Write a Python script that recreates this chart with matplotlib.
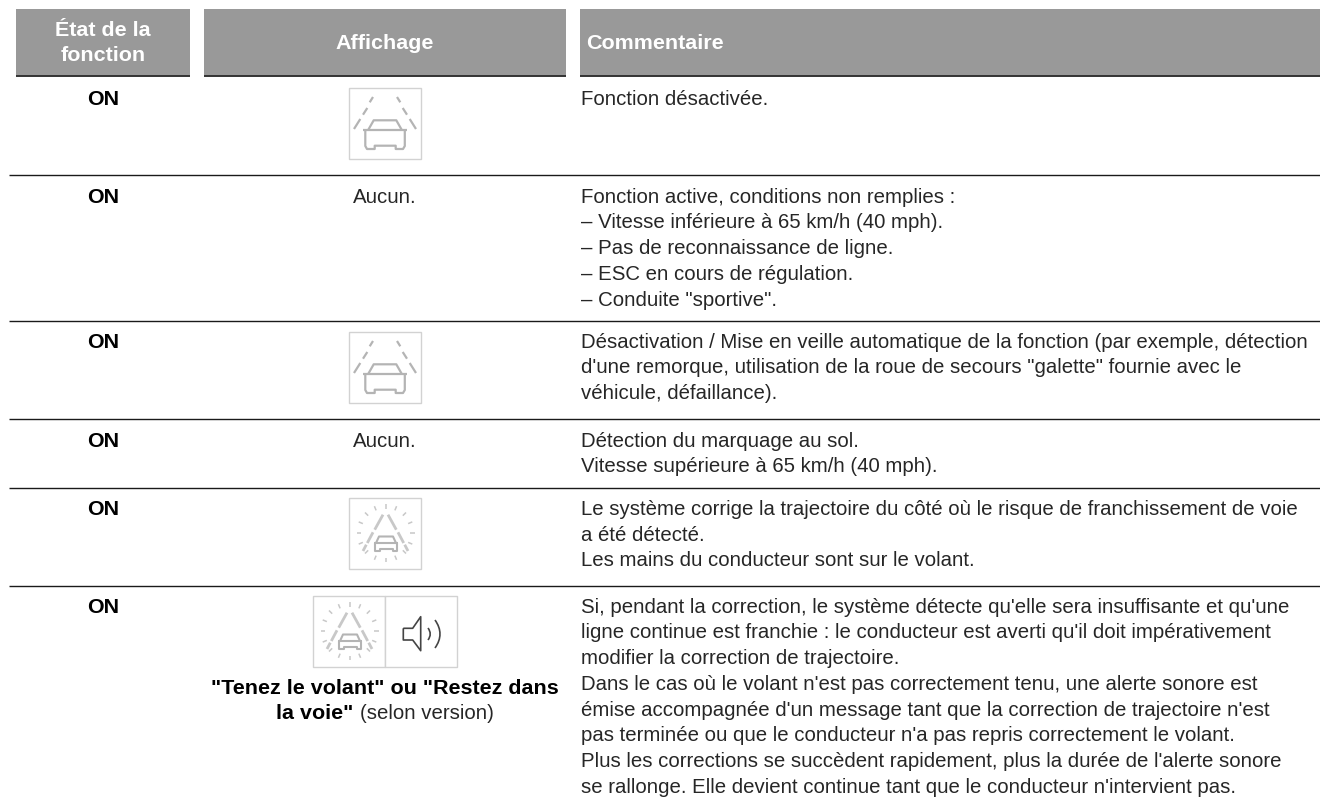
import numpy as np
import matplotlib.pyplot as plt
from matplotlib.patches import Rectangle, PathPatch
from matplotlib.path import Path

plt.rcParams["font.family"] = ["Liberation Sans", "DejaVu Sans"]

# contenu du tableau
headers = ["État de la\nfonction", "Affichage", "Commentaire"]
etat = ["ON", "ON", "ON", "ON", "ON", "ON"]
affichage = ["icon", "Aucun.", "icon", "Aucun.", "alert", "alert+son"]
commentaires = [
    ["Fonction désactivée."],
    ["Fonction active, conditions non remplies :",
     "– Vitesse inférieure à 65 km/h (40 mph).",
     "– Pas de reconnaissance de ligne.",
     "– ESC en cours de régulation.",
     "– Conduite \"sportive\"."],
    ["Désactivation / Mise en veille automatique de la fonction (par exemple, détection",
     "d'une remorque, utilisation de la roue de secours \"galette\" fournie avec le",
     "véhicule, défaillance)."],
    ["Détection du marquage au sol.",
     "Vitesse supérieure à 65 km/h (40 mph)."],
    ["Le système corrige la trajectoire du côté où le risque de franchissement de voie",
     "a été détecté.",
     "Les mains du conducteur sont sur le volant."],
    ["Si, pendant la correction, le système détecte qu'elle sera insuffisante et qu'une",
     "ligne continue est franchie : le conducteur est averti qu'il doit impérativement",
     "modifier la correction de trajectoire.",
     "Dans le cas où le volant n'est pas correctement tenu, une alerte sonore est",
     "émise accompagnée d'un message tant que la correction de trajectoire n'est",
     "pas terminée ou que le conducteur n'a pas repris correctement le volant.",
     "Plus les corrections se succèdent rapidement, plus la durée de l'alerte sonore",
     "se rallonge. Elle devient continue tant que le conducteur n'intervient pas."],
]
message = ["\"Tenez le volant\" ou \"Restez dans", "la voie\"", "(selon version)"]

# mise en page, en pixels
col_x = [(16, 190), (204, 566), (580, 1320)]
row_base = [105, 202.7, 347.7, 446.7, 515, 612.7]
row_lines = [175, 320.7, 419, 487.5, 585.7]
line_h = 25.7
fs = 14.7
fs_bold = 15.45
txt_col = "#262626"
grey = "#b4b4b4"
box_col = "#d2d2d2"

fig = plt.figure(figsize=(13.2, 8.05), dpi=100)
ax = fig.add_axes([0, 0, 1, 1])
ax.set_xlim(0, 1320)
ax.set_ylim(805, 0)
ax.axis("off")


def draw_box(x, y):
    ax.add_patch(Rectangle((x, y), 72, 71, fc="white", ec=box_col, lw=1))


def seg(x, y, pts, lw=1.6, col=grey, closed=False):
    p = np.array(pts, dtype=float)
    if closed:
        p = np.vstack([p, p[:1]])
    ax.plot(x + p[:, 0], y + p[:, 1], color=col, lw=lw, solid_capstyle="butt", solid_joinstyle="round")


def draw_car_icon(x, y):
    draw_box(x, y)
    for a, b in [((24, 9), (20.7, 14.3)), ((18.3, 20), (14, 26.7)), ((11.3, 31), (5, 41))]:
        seg(x, y, [a, b])
        seg(x, y, [(72 - a[0], a[1]), (72 - b[0], b[1])])
    seg(x, y, [(14, 42.3), (58, 42.3)])
    seg(x, y, [(19, 42.3), (24.7, 32.3), (47.3, 32.3), (53, 42.3)])
    seg(x, y, [(16.3, 42.3), (16.3, 58), (18, 61), (25.7, 61), (25.7, 57.7), (46.7, 57.7),
               (46.7, 61), (54, 61), (55.8, 58), (55.8, 42.3)])


def draw_alert_icon(x, y):
    draw_box(x, y)
    col = "#c8c8c8"
    # rayons
    for ang in np.arange(0, 360, 22.5):
        c, s = np.cos(np.radians(ang)), np.sin(np.radians(ang))
        seg(x, y, [(36.5 + 24.5 * c, 35 + 24.5 * s), (36.5 + 29 * c, 35 + 29 * s)], lw=1.1, col=col)
    # voies
    for a, b in [((34, 16.7), (25.7, 31.7)), ((24, 34.3), (18.3, 45)), ((17.3, 46.7), (14, 53))]:
        seg(x, y, [a, b], lw=2, col=col)
        seg(x, y, [(73 - a[0], a[1]), (73 - b[0], b[1])], lw=2, col=col)
    # voiture
    seg(x, y, [(27, 45), (30, 38.5), (44, 38.5), (47, 45)], lw=1.5)
    seg(x, y, [(25, 45), (49, 45)], lw=1.5)
    seg(x, y, [(26, 45), (26, 53), (30.5, 53), (30.5, 51), (43.5, 51), (43.5, 53), (48, 53), (48, 45)], lw=1.5)


def draw_speaker_icon(x, y):
    draw_box(x, y)
    seg(x, y, [(18.3, 32.3), (27.7, 32.3), (35.7, 20.7), (35.7, 54.7), (27.7, 44), (18.3, 44)],
        lw=1.2, col="#444444", closed=True)
    for p0, p1, p2 in [((43, 32), (47.5, 38), (43, 44)), ((50, 24), (60, 38), (50, 52))]:
        verts = [(x + p0[0], y + p0[1]), (x + p1[0], y + p1[1]), (x + p2[0], y + p2[1])]
        ax.add_patch(PathPatch(Path(verts, [Path.MOVETO, Path.CURVE3, Path.CURVE3]),
                               fc="none", ec="#444444", lw=1.2))


# en-tête
for (x0, x1) in col_x:
    ax.add_patch(Rectangle((x0, 9), x1 - x0, 67, fc="#999999", ec="none"))
    ax.plot([x0, x1], [76.5, 76.5], color="#333333", lw=1.4, solid_capstyle="butt")
for k, t in enumerate(headers[0].split("\n")):
    ax.text(sum(col_x[0]) / 2, 35.5 + k * 25.7, t, ha="center", va="baseline", color="white",
            fontsize=fs_bold, fontweight="bold")
ax.text(sum(col_x[1]) / 2, 49, headers[1], ha="center", va="baseline", color="white",
        fontsize=fs_bold, fontweight="bold")
ax.text(586, 49, headers[2], ha="left", va="baseline", color="white", fontsize=fs_bold, fontweight="bold")

# séparateurs
for y in row_lines:
    ax.plot([9, 1320], [y, y], color="#1a1a1a", lw=1, solid_capstyle="butt")

# lignes
for i in range(6):
    base = row_base[i]
    ax.text(103, base, etat[i], ha="center", va="baseline", fontsize=fs_bold, fontweight="bold", color="black")
    if affichage[i] == "Aucun.":
        ax.text(385, base, affichage[i], ha="center", va="baseline", fontsize=fs, color=txt_col)
    for k, t in enumerate(commentaires[i]):
        ax.text(581, base + k * line_h, t, ha="left", va="baseline", fontsize=fs, color=txt_col)

draw_car_icon(349, 88)
draw_car_icon(349, 332)
draw_alert_icon(349, 498)
draw_alert_icon(313, 596)
draw_speaker_icon(385, 596)

# message sous les icones, gras + normal sur la même ligne
ax.text(385, 693.5, message[0], ha="center", va="baseline", fontsize=fs_bold, fontweight="bold", color="black")
t1 = ax.text(0, 719, message[1], ha="left", va="baseline", fontsize=fs_bold, fontweight="bold", color="black")
t2 = ax.text(0, 719, message[2], ha="left", va="baseline", fontsize=fs, color=txt_col)
fig.canvas.draw()
r = fig.canvas.get_renderer()
w1 = t1.get_window_extent(r).width
w2 = t2.get_window_extent(r).width
gap = 6
t1.set_x(385 - (w1 + gap + w2) / 2)
t2.set_x(385 - (w1 + gap + w2) / 2 + w1 + gap)

fig.savefig("out.png", dpi=100, facecolor="white")
